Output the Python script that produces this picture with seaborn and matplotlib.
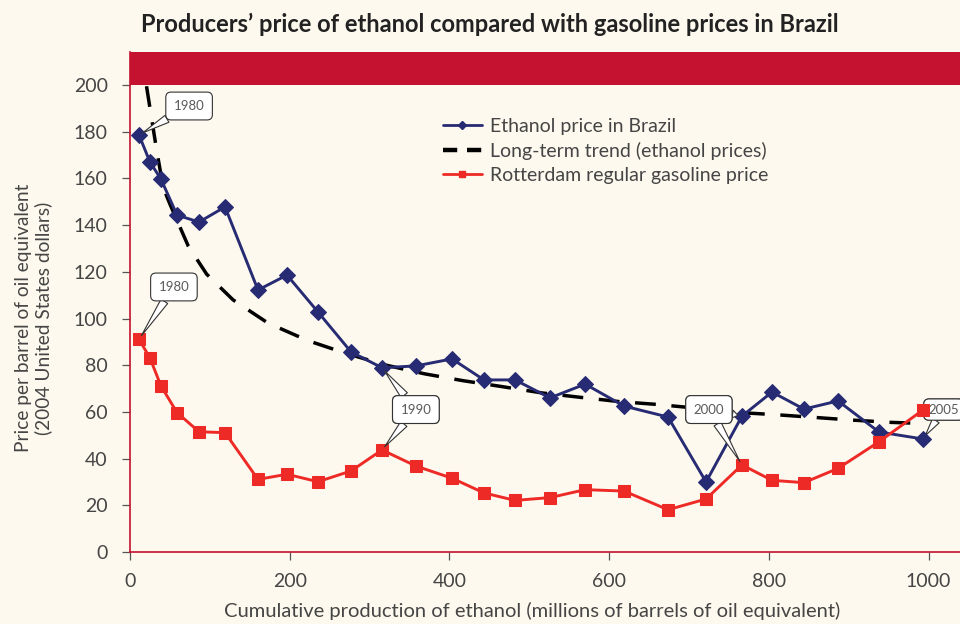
import matplotlib
matplotlib.use("Agg")
import matplotlib.pyplot as plt
from matplotlib.lines import Line2D
import pandas as pd
import seaborn as sns

# Cumulative ethanol production (millions of barrels of oil equivalent), one point per year 1980-2005
cum_production = [11.3, 25, 38.8, 58.9, 86.4, 119, 160.3, 196.6, 235.4, 276.8, 315.6, 358.2, 403.3,
                  443.3, 482.2, 526, 570, 618.7, 673.8, 721.4, 766.4, 804, 844, 886.7, 938, 993]
ethanol_price = [178.6, 167, 159.7, 144.3, 141.3, 147.8, 112.2, 118.6, 102.8, 85.7, 78.9, 79.7, 82.7,
                 73.7, 73.7, 66, 71.9, 62.5, 57.8, 30.0, 58.2, 68.5, 61.2, 64.7, 51.4, 48.4]
gasoline_price = [91.1, 83.1, 71.1, 59.7, 51.5, 51.1, 31.1, 33.3, 30.1, 34.7, 43.7, 36.8, 31.6,
                  25.3, 22.1, 23.3, 26.7, 26.1, 18.1, 22.7, 37.3, 30.7, 29.7, 35.8, 47.2, 60.8]
years = list(range(1980, 2006))

# Long-term (experience-curve) trend of ethanol prices
trend_production = [16, 20.9, 33.4, 41.7, 50, 73, 96, 129, 173, 223, 271, 321, 369, 416.5, 466.5,
                    516.5, 565, 613, 660, 697, 759, 809, 859, 904, 954, 990]
trend_price = [215, 199, 172, 156, 149, 131, 119, 108, 98, 90.5, 85, 80, 76.3, 73.4, 70.8,
               68.1, 66.2, 64.4, 63.2, 62, 59.8, 58.8, 57.6, 56.5, 55.5, 55.1]

x_ticks = [0, 200, 400, 600, 800, 1000]
y_ticks = [0, 20, 40, 60, 80, 100, 120, 140, 160, 180, 200]

series_labels = ["Ethanol price in Brazil",
                 "Long-term trend (ethanol prices)",
                 "Rotterdam regular gasoline price"]

BG = "#FDF9EE"
BAND = "#C41230"
BLUE = "#262B73"
RED = "#EE2A27"
TEXT = "#454545"

sns.set_style("ticks")
plt.rcParams["font.family"] = ["Lato", "DejaVu Sans"]

fig = plt.figure(figsize=(9.6, 6.24), dpi=100, facecolor=BG)
ax = fig.add_axes([130 / 960, 1 - 552 / 624, 830 / 960, 500 / 624])
ax.set_facecolor(BG)

ethanol = pd.DataFrame({"production": cum_production, "price": ethanol_price})
gasoline = pd.DataFrame({"production": cum_production, "price": gasoline_price})
trend = pd.DataFrame({"production": trend_production, "price": trend_price})

sns.lineplot(data=trend, x="production", y="price", ax=ax, color="black", lw=2.5,
             zorder=2).lines[-1].set_dashes([6, 4.5])
sns.lineplot(data=ethanol, x="production", y="price", ax=ax, color=BLUE, lw=2.1,
             marker="D", markersize=8, markeredgecolor=BLUE, zorder=3)
sns.lineplot(data=gasoline, x="production", y="price", ax=ax, color=RED, lw=2.1,
             marker="s", markersize=8, markeredgecolor=RED, zorder=3)

ax.set_xlim(0, 830 / 0.7985)
ax.set_ylim(0, 500 / 2.335)
ax.axhspan(200, 500 / 2.335, color=BAND, lw=0, zorder=5)

ax.set_xticks(x_ticks)
ax.set_yticks(y_ticks)
ax.set_xlabel("")
ax.set_ylabel("")
for side in ("top", "right"):
    ax.spines[side].set_visible(False)
for side in ("left", "bottom"):
    ax.spines[side].set_color(BAND)
    ax.spines[side].set_linewidth(1.2)
ax.tick_params(axis="both", direction="out", length=6, width=0.9, color="#555555",
               labelcolor=TEXT, labelsize=14)
ax.tick_params(axis="y", pad=10)
ax.tick_params(axis="x", pad=9)


def callout(label, targets, xytext, z=6, pad=0.6):
    for xy in targets:
        ax.annotate(label, xy=xy, xytext=xytext, textcoords="data",
                    ha="center", va="center", fontsize=9.5, color="#5A5A5A",
                    bbox=dict(boxstyle=f"round,pad={pad},rounding_size=0.4",
                              fc="white", ec="#333333", lw=0.8),
                    arrowprops=dict(arrowstyle="wedge,tail_width=0.6,shrink_factor=0.5",
                                    fc="white", ec="#333333", lw=0.8,
                                    shrinkA=0, shrinkB=3),
                    zorder=z, annotation_clip=False)


i80, i90, i00, i05 = (years.index(y) for y in (1980, 1990, 2000, 2005))
callout("1980", [(cum_production[i80], ethanol_price[i80])], (74, 191))
callout("1980", [(cum_production[i80], gasoline_price[i80])], (55, 113.5))
callout("1990", [(cum_production[i90], ethanol_price[i90]),
                 (cum_production[i90], gasoline_price[i90])], (358, 61))
callout("2000", [(cum_production[i00], ethanol_price[i00]),
                 (cum_production[i00], gasoline_price[i00])], (725, 61))
# the last callout sits under the markers so the 2005 points stay visible
callout("2005", [(cum_production[i05], gasoline_price[i05]),
                 (cum_production[i05], ethanol_price[i05])], (1019, 61), z=2.9, pad=0.35)

handles = [
    Line2D([], [], color=BLUE, lw=2, marker="D", markersize=4.5),
    Line2D([], [], color="black", lw=3.2, dashes=[3.2, 2.2]),
    Line2D([], [], color=RED, lw=2, marker="s", markersize=5),
]
ax.legend(handles, series_labels, loc="upper left", bbox_to_anchor=(0.377, 0.868),
          frameon=False, fontsize=14, labelcolor=TEXT, handlelength=2.0,
          handletextpad=0.4, labelspacing=0.35, borderpad=0, borderaxespad=0)

fig.text(490 / 960, 1 - 24 / 624,
         "Producers\u2019 price of ethanol compared with gasoline prices in Brazil",
         ha="center", va="center", fontsize=17, weight="bold", color="#222222")
fig.text(532 / 960, 1 - 611 / 624,
         "Cumulative production of ethanol (millions of barrels of oil equivalent)",
         ha="center", va="center", fontsize=14.5, color=TEXT)
fig.text(34 / 960, 1 - 318 / 624,
         "Price per barrel of oil equivalent\n(2004 United States dollars)",
         ha="center", va="center", rotation=90, fontsize=13.8, color=TEXT,
         linespacing=1.15, multialignment="center")

fig.savefig("out.png", dpi=100, facecolor=BG)
